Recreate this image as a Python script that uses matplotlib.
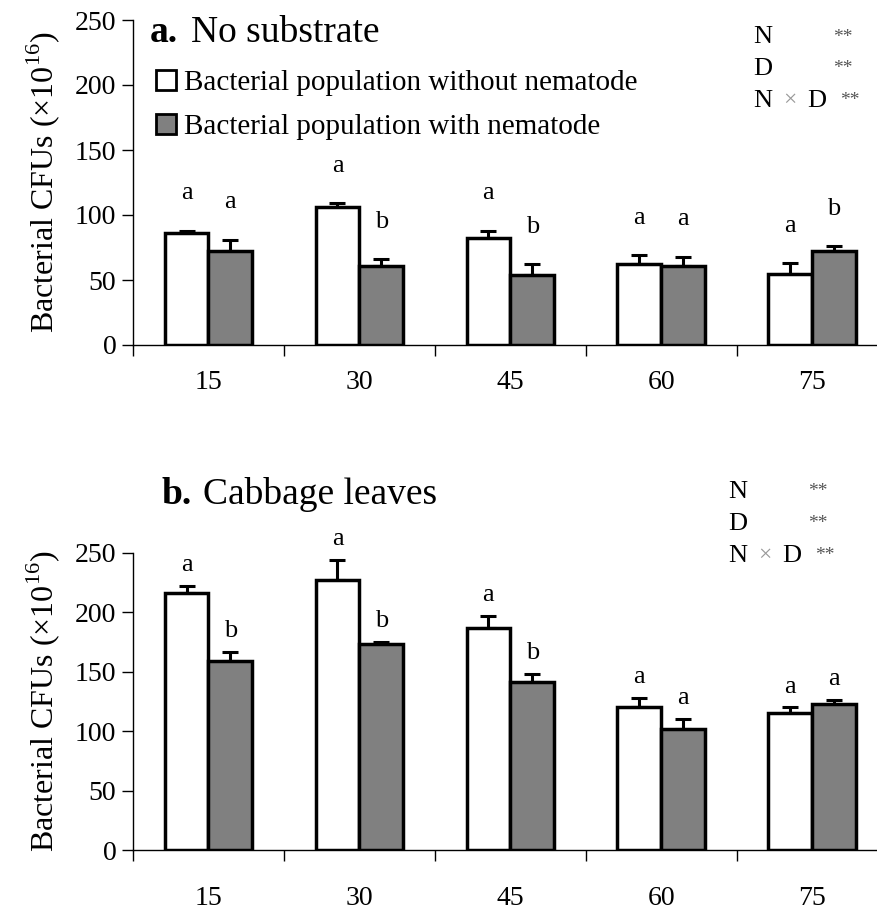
import matplotlib
matplotlib.use('Agg')
import matplotlib.pyplot as plt
from matplotlib.patches import Patch
import numpy as np

plt.rcParams['font.family'] = ['Liberation Serif', 'DejaVu Serif']
plt.rcParams['mathtext.fontset'] = 'custom'
plt.rcParams['mathtext.rm'] = 'Liberation Serif'

# days after inoculation
days = ['15', '30', '45', '60', '75']

# a. no substrate
a_without = [86, 106, 82, 62, 55]
a_without_sd = [2, 3, 6, 7, 8]
a_with = [72, 61, 54, 61, 72]
a_with_sd = [9, 5, 8, 7, 4]
a_without_letters = ['a', 'a', 'a', 'a', 'a']
a_with_letters = ['a', 'b', 'b', 'a', 'b']

# b. cabbage leaves
b_without = [216, 227, 187, 120, 115]
b_without_sd = [6, 17, 10, 8, 5]
b_with = [159, 173, 141, 102, 123]
b_with_sd = [8, 2, 7, 8, 3]
b_without_letters = ['a', 'a', 'a', 'a', 'a']
b_with_letters = ['b', 'b', 'b', 'a', 'a']

stats_terms = ['N', 'D', 'N']
stats_sig = ['**', '**', '**']

legend_labels = ['Bacterial population without nematode',
                 'Bacterial population with nematode']

W, H = 877, 911
fig = plt.figure(figsize=(W / 100, H / 100), dpi=100)

gray = '#808080'
bw = 0.29


def panel(rect, title, v0, e0, v1, e1, l0, l1, letter_off, stats_pos, xpad):
    ax = fig.add_axes(rect)
    x = np.arange(len(days))
    ax.bar(x - bw / 2, v0, bw, color='white', edgecolor='black', linewidth=2.5, zorder=3)
    ax.bar(x + bw / 2, v1, bw, color=gray, edgecolor='black', linewidth=2.5, zorder=3)
    ax.errorbar(x - bw / 2, v0, yerr=[np.zeros(len(x)), e0], fmt='none',
                ecolor='black', elinewidth=2.2, capsize=6, capthick=2.2, zorder=2)
    ax.errorbar(x + bw / 2, v1, yerr=[np.zeros(len(x)), e1], fmt='none',
                ecolor='black', elinewidth=2.2, capsize=6, capthick=2.2, zorder=2)
    for i in range(len(x)):
        ax.annotate(l0[i], (x[i] - bw / 2, v0[i] + e0[i]), xytext=(0, letter_off),
                    textcoords='offset points', ha='center', va='center',
                    fontsize=19, annotation_clip=False)
        ax.annotate(l1[i], (x[i] + bw / 2, v1[i] + e1[i]), xytext=(0, letter_off),
                    textcoords='offset points', ha='center', va='center',
                    fontsize=19, annotation_clip=False)

    ax.set_ylim(0, 250)
    ax.set_yticks(range(0, 251, 50))
    ax.set_xlim(-0.5, 4.43)
    ax.set_xticks(np.arange(-0.5, 4.0, 1.0))
    ax.set_xticklabels([])
    ax.set_xticks(x, minor=True)
    ax.set_xticklabels(days, minor=True)
    ax.tick_params(axis='x', which='major', direction='out', length=8, width=1)
    ax.tick_params(axis='x', which='minor', length=0, pad=xpad, labelsize=20)
    ax.tick_params(axis='y', direction='out', length=8, width=1, labelsize=20, pad=4)
    for s in ['top', 'right']:
        ax.spines[s].set_visible(False)
    ax.spines['left'].set_linewidth(1)
    ax.spines['bottom'].set_linewidth(1)
    ax.set_ylabel('Bacterial CFUs (\u00d710$^{16}$)', fontsize=23, labelpad=9)

    fig.text(title[0], title[1], title[2], fontsize=27, fontweight='bold',
             ha='left', va='center')
    fig.text(title[0] + 0.047, title[1], title[3], fontsize=27, ha='left', va='center')

    sx, sy, ssig = stats_pos
    for k in range(len(stats_terms)):
        yk = sy - k * 0.035
        fig.text(sx, yk, stats_terms[k], fontsize=19, ha='left', va='center')
        fig.text(ssig + (0.008 if k == 2 else 0), yk, stats_sig[k], fontsize=14,
                 ha='left', va='center', color='#555555')
    # interaction term: N x D with a light multiplication sign
    yk = sy - 2 * 0.035
    fig.text(sx + 0.034, yk, '\u00d7', fontsize=17, ha='left', va='center', color='#999999')
    fig.text(sx + 0.062, yk, 'D', fontsize=19, ha='left', va='center')
    return ax


ax1 = panel([133 / W, 1 - 345 / H, 744 / W, 325 / H],
            (150 / W, 1 - 33 / H, 'a.', 'No substrate'),
            a_without, a_without_sd, a_with, a_with_sd,
            a_without_letters, a_with_letters, 27,
            (753 / W, 1 - 37 / H, 833 / W), 18)

ax2 = panel([133 / W, 1 - 850 / H, 744 / W, 297 / H],
            (162 / W, 1 - 494 / H, 'b.', 'Cabbage leaves'),
            b_without, b_without_sd, b_with, b_with_sd,
            b_without_letters, b_with_letters, 15,
            (728 / W, 1 - 492 / H, 808 / W), 26)

handles = [Patch(facecolor='white', edgecolor='black', linewidth=2),
           Patch(facecolor=gray, edgecolor='black', linewidth=2)]
fig.legend(handles, legend_labels, loc='upper left',
           bbox_to_anchor=(156 / W, 1 - 70 / H), frameon=False, fontsize=21,
           handlelength=0.7, handleheight=0.7, handletextpad=0.25,
           labelspacing=0.6, borderpad=0, borderaxespad=0)

plt.savefig('out.png', dpi=100)
